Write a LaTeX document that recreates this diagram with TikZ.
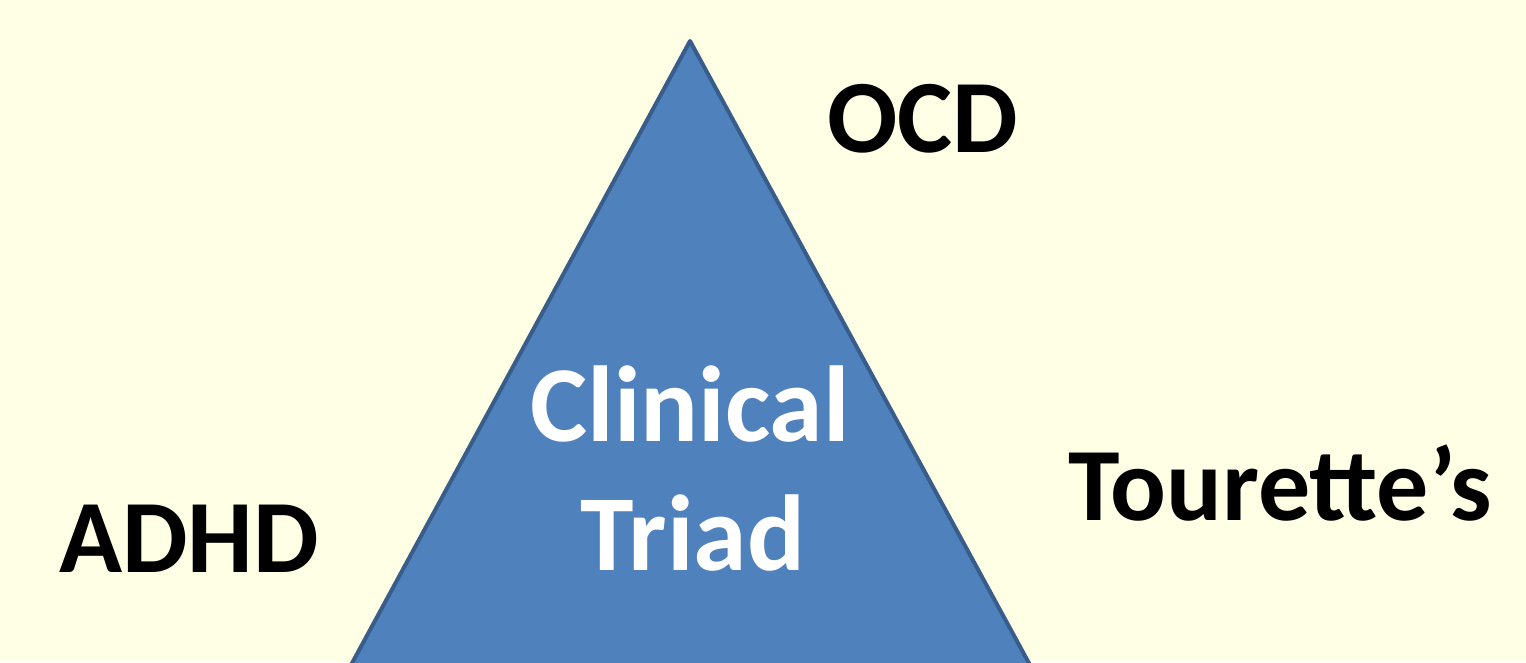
\documentclass[tikz,border=0pt]{standalone}
\usepackage{fontspec}
\setmainfont{Carlito}
\definecolor{bg}{HTML}{FFFFE5}
\definecolor{trifill}{HTML}{4F81BD}
\definecolor{triedge}{HTML}{385D8A}
\tikzset{
  lbl/.style={anchor=base, inner sep=0pt, font=\fontsize{104}{110}\selectfont\bfseries, text=black},
  inner/.style={anchor=base, inner sep=0pt, font=\fontsize{108}{129}\selectfont\bfseries, text=white},
}
\begin{document}
\begin{tikzpicture}[x=1pt,y=-1pt]
\fill[bg] (0,0) rectangle (1526,662);
\useasboundingbox (0,0) rectangle (1526,662);
\coordinate (apex) at (690,41);
\coordinate (bl) at (351,665);
\coordinate (br) at (1030,665);
\filldraw[fill=trifill, draw=triedge, line width=4pt, line join=round] (apex) -- (br) -- (bl) -- cycle;
\node[inner] (clin) at (690,441) {Clinical};
\node[inner] (triad) at (693,570) {Triad};
\node[lbl] (ocd) at (923,152) {OCD};
\node[lbl] (tour) at (1280,520) {Tourette’s};
\node[lbl] (adhd) at (189,572) {ADHD};
\end{tikzpicture}
\end{document}
